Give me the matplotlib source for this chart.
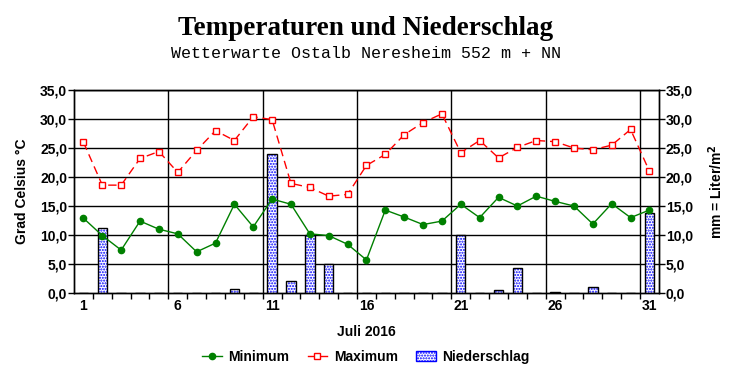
import numpy as np
import matplotlib.pyplot as plt
from matplotlib.patches import Patch
from matplotlib.lines import Line2D

# Tage im Juli 2016
tage = np.arange(1, 32)

# Tagesminimum und -maximum in Grad Celsius
t_min = [12.9, 9.9, 7.4, 12.4, 11.0, 10.2, 7.1, 8.6, 15.3, 11.4,
         16.2, 15.3, 10.2, 9.9, 8.4, 5.7, 14.3, 13.1, 11.8, 12.4,
         15.3, 13.0, 16.5, 15.0, 16.7, 15.8, 15.0, 11.9, 15.4, 13.0, 14.3]
t_max = [26.0, 18.6, 18.6, 23.2, 24.4, 20.8, 24.6, 28.0, 26.3, 30.4,
         29.9, 18.9, 18.2, 16.7, 17.0, 22.0, 23.9, 27.3, 29.4, 30.9,
         24.2, 26.3, 23.3, 25.1, 26.3, 26.1, 25.0, 24.7, 25.5, 28.2, 21.0]

# Niederschlag in mm
niederschlag = [0, 11.2, 0, 0, 0, 0, 0, 0, 0.7, 0,
                23.9, 2.1, 10.0, 5.0, 0, 0, 0, 0, 0, 0,
                10.0, 0, 0.5, 4.3, 0, 0.2, 0, 1.0, 0, 0, 13.8]

y_ticks = np.arange(0, 36, 5)
y_labels = ['%.1f' % v for v in y_ticks]
y_labels = [s.replace('.', ',') for s in y_labels]
x_labels = [1, 6, 11, 16, 21, 26, 31]

plt.rcParams['font.family'] = 'Liberation Sans'
plt.rcParams['font.weight'] = 'bold'
plt.rcParams['hatch.linewidth'] = 1.0

fig = plt.figure(figsize=(7.32, 3.8), dpi=100)
ax = fig.add_axes([0.1011, 0.229, 0.799, 0.534])

# Balken fuer den Niederschlag
ax.bar(tage, niederschlag, width=0.5, color='white', edgecolor='blue',
       hatch='......', linewidth=0, zorder=3)
ax.bar(tage, niederschlag, width=0.5, color='none', edgecolor='black',
       linewidth=1, zorder=4)

# Temperaturkurven
ax.plot(tage, t_max, color='red', linewidth=1, linestyle=(0, (6, 3.5)),
        marker='s', markersize=5, markerfacecolor='white',
        markeredgecolor='red', markeredgewidth=1, zorder=5)
ax.plot(tage, t_min, color='green', linewidth=1, marker='o', markersize=4.5,
        markerfacecolor='green', markeredgecolor='green', zorder=5)

ax.set_xlim(0.5, 31.5)
ax.set_ylim(0, 35)

# Gitter
for y in y_ticks[1:]:
    ax.axhline(y, color='black', linewidth=1, zorder=1)
for x in [5.5, 10.5, 15.5, 20.5, 25.5, 30.5]:
    ax.axvline(x, color='black', linewidth=1, zorder=1)

ax.set_xticks(x_labels)
ax.set_xticklabels([str(d) for d in x_labels], fontsize=10, fontweight='bold')
ax.set_xticks(np.arange(1.5, 31, 1), minor=True)
ax.tick_params(axis='x', which='major', length=0, pad=4)
ax.tick_params(axis='x', which='minor', length=4, width=1, direction='out')

ax.set_yticks(y_ticks)
ax.set_yticklabels(y_labels, fontsize=10, fontweight='bold')
ax.tick_params(axis='y', length=4, width=1, direction='out', pad=1)

ax2 = ax.twinx()
ax2.set_ylim(0, 35)
ax2.set_yticks(y_ticks)
ax2.set_yticklabels(y_labels, fontsize=10, fontweight='bold')
ax2.tick_params(axis='y', length=4, width=1, direction='out', pad=1)

for a in (ax, ax2):
    for s in a.spines.values():
        s.set_linewidth(1)

ax.set_ylabel('Grad Celsius °C', fontsize=10, fontweight='bold', labelpad=8)
ax2.set_ylabel('mm = Liter/m$^\\mathbf{2}$', fontsize=10, fontweight='bold', labelpad=10)
ax.set_xlabel('Juli 2016', fontsize=10, fontweight='bold', labelpad=9)

fig.text(0.5, 0.925, 'Temperaturen und Niederschlag', ha='center', va='center',
         fontsize=19.5, fontweight='bold', family='Liberation Serif')
fig.text(0.5, 0.858, 'Wetterwarte Ostalb Neresheim 552 m + NN', ha='center',
         va='center', fontsize=12, family='Liberation Mono', fontweight='normal')

handles = [
    Line2D([], [], color='green', linewidth=1, marker='o', markersize=4.5),
    Line2D([], [], color='red', linewidth=1, marker='s', markersize=5,
           markerfacecolor='white'),
    Patch(facecolor='white', edgecolor='blue', hatch='......'),
]
leg = fig.legend(handles, ['Minimum', 'Maximum', 'Niederschlag'],
                 loc='center', bbox_to_anchor=(0.5, 0.06), ncol=3,
                 frameon=False, handlelength=1.4, handletextpad=0.5,
                 columnspacing=1.3, prop={'weight': 'bold', 'size': 10})

fig.savefig('out.png', dpi=100, facecolor='white')
